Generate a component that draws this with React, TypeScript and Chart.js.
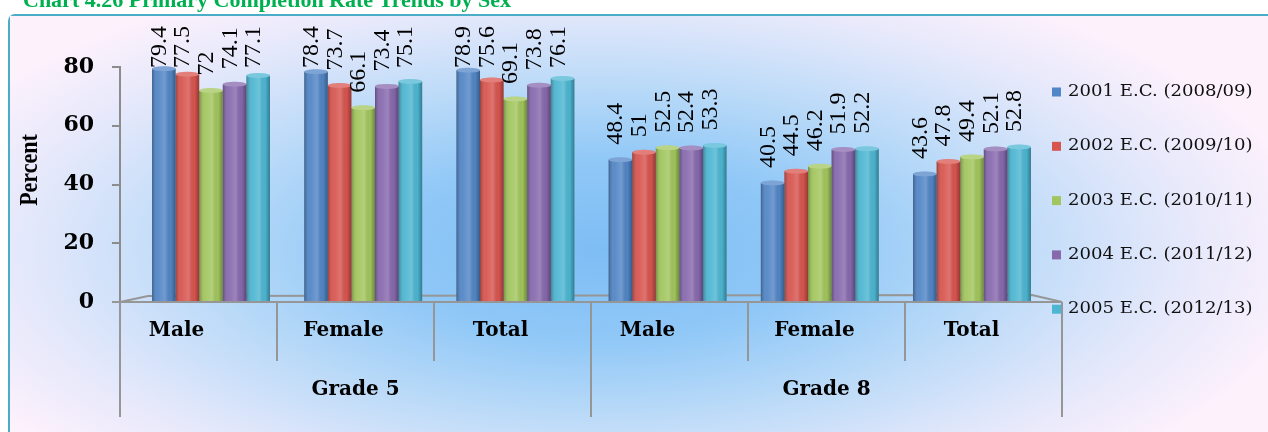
import React, { useEffect, useRef } from 'react';
import { Chart, registerables } from 'chart.js';

Chart.register(...registerables);

// ---------- data ----------
const chartTitle = 'Chart 4.26 Primary Completion Rate Trends by Sex';
const axisTitle = 'Percent';
const categories = ['Male', 'Female', 'Total', 'Male', 'Female', 'Total'];
const gradeGroups = ['Grade 5', 'Grade 8'];
const seriesNames = [
  '2001 E.C. (2008/09)',
  '2002 E.C. (2009/10)',
  '2003 E.C. (2010/11)',
  '2004 E.C. (2011/12)',
  '2005 E.C. (2012/13)',
];
const values2001 = [79.4, 78.4, 78.9, 48.4, 40.5, 43.6];
const values2002 = [77.5, 73.7, 75.6, 51, 44.5, 47.8];
const values2003 = [72, 66.1, 69.1, 52.5, 46.2, 49.4];
const values2004 = [74.1, 73.4, 73.8, 52.4, 51.9, 52.1];
const values2005 = [77.1, 75.1, 76.1, 53.3, 52.2, 52.8];
const seriesValues = [values2001, values2002, values2003, values2004, values2005];
const seriesColors = ['#5286c6', '#d8554f', '#a2c65d', '#8769ae', '#4db6d2'];
const yMin = 0;
const yMax = 80;
const yStep = 20;

function barTransform(chart: any) {
  const area = chart.chartArea;
  const n = categories.length;
  const cat = (area.right - area.left) / n;
  const c0 = area.left + cat / 2;
  const c1 = area.right - cat / 2;
  const t0 = c0 + 12.5;
  const t1 = c1 - 11.5;
  const b = (t1 - t0) / (c1 - c0);
  const a = t0 - b * c0;
  return { a, b };
}

const decorPlugin = {
  id: 'decor',
  beforeDraw(chart: any) {
    const ctx = chart.ctx;
    ctx.save();
    ctx.beginPath();
    ctx.rect(10, 16, 3000, 3000);
    ctx.clip();
    ctx.translate(600, 250);
    ctx.scale(720 / 300, 1);
    const g = ctx.createRadialGradient(0, 0, 0, 0, 0, 300);
    g.addColorStop(0, '#7ebdf4');
    g.addColorStop(0.3, '#90c8f7');
    g.addColorStop(0.55, '#badaf8');
    g.addColorStop(0.8, '#e4e8fb');
    g.addColorStop(1, '#fdf1fc');
    ctx.fillStyle = g;
    ctx.fillRect(-400, -300, 1000, 1000);
    ctx.restore();
    ctx.save();
    ctx.fillStyle = '#00b050';
    ctx.font = 'bold 22px "Liberation Serif"';
    ctx.textAlign = 'left';
    ctx.textBaseline = 'alphabetic';
    ctx.fillText(chartTitle, 23, 7);
    ctx.translate(37, 170);
    ctx.rotate(-Math.PI / 2);
    ctx.scale(1, 1.15);
    ctx.fillStyle = '#000000';
    ctx.font = 'bold 22px "Liberation Serif"';
    ctx.textAlign = 'center';
    ctx.fillText(axisTitle, 0, 0);
    ctx.restore();
  },
  beforeDatasetsDraw(chart: any) {
    const ctx = chart.ctx;
    const area = chart.chartArea;
    ctx.save();
    ctx.strokeStyle = '#969696';
    ctx.lineWidth = 2;
    ctx.beginPath();
    ctx.moveTo(area.left, area.bottom);
    ctx.lineTo(area.left + 28, area.bottom - 6);
    ctx.lineTo(area.right - 30, area.bottom - 7);
    ctx.lineTo(area.right, area.bottom);
    ctx.stroke();
    ctx.restore();
    const { a, b } = barTransform(chart);
    ctx.save();
    ctx.translate(a, 0);
    ctx.scale(b, 1);
  },
  afterDatasetsDraw(chart: any) {
    const ctx = chart.ctx;
    chart.data.datasets.forEach((ds: any, di: number) => {
      const meta = chart.getDatasetMeta(di);
      meta.data.forEach((el: any) => {
        const w = el.width;
        const x0 = el.x - w / 2;
        const top = el.y;
        const bot = el.base;
        const g = ctx.createLinearGradient(x0, 0, x0 + w, 0);
        g.addColorStop(0, 'rgba(0,0,0,0.28)');
        g.addColorStop(0.25, 'rgba(255,255,255,0.05)');
        g.addColorStop(0.55, 'rgba(255,255,255,0.18)');
        g.addColorStop(0.8, 'rgba(0,0,0,0.02)');
        g.addColorStop(1, 'rgba(0,0,0,0.32)');
        ctx.fillStyle = g;
        ctx.fillRect(x0, top, w, bot - top);
        ctx.beginPath();
        ctx.ellipse(el.x, top, w / 2, 2.5, 0, 0, Math.PI * 2);
        ctx.fillStyle = ds.backgroundColor;
        ctx.fill();
        ctx.fillStyle = 'rgba(255,255,255,0.25)';
        ctx.fill();
      });
    });
    ctx.restore();
    const { a, b } = barTransform(chart);
    const area = chart.chartArea;
    ctx.save();
    ctx.fillStyle = '#000000';
    ctx.font = '24px "Liberation Serif"';
    ctx.textAlign = 'left';
    ctx.textBaseline = 'alphabetic';
    chart.data.datasets.forEach((ds: any, di: number) => {
      const meta = chart.getDatasetMeta(di);
      meta.data.forEach((el: any, j: number) => {
        const text = String(ds.data[j]);
        const len = ctx.measureText(text).width;
        const bottom = Math.max(el.y - 15, area.top - 41 + len);
        const x = a + b * el.x + 2;
        ctx.save();
        ctx.translate(x, bottom);
        ctx.rotate(-Math.PI / 2);
        ctx.fillText(text, 0, 0);
        ctx.restore();
      });
    });
    ctx.restore();
  },
  afterDraw(chart: any) {
    const ctx = chart.ctx;
    const area = chart.chartArea;
    const n = categories.length;
    const cat = (area.right - area.left) / n;
    ctx.save();
    ctx.strokeStyle = '#969696';
    ctx.lineWidth = 2;
    ctx.beginPath();
    ctx.moveTo(area.left - 8, area.bottom);
    ctx.lineTo(area.right, area.bottom);
    for (let i = 0; i <= n; i++) {
      const x = area.left + i * cat;
      ctx.moveTo(x, area.bottom);
      ctx.lineTo(x, area.bottom + (i % 3 === 0 ? 115 : 59));
    }
    ctx.stroke();
    ctx.fillStyle = '#000000';
    ctx.font = 'bold 20px "DejaVu Serif"';
    ctx.textAlign = 'center';
    ctx.textBaseline = 'middle';
    categories.forEach((c, i) => {
      const shift = i % 3 === 0 ? -22 : -12;
      ctx.fillText(c, area.left + (i + 0.5) * cat + shift, area.bottom + 29);
    });
    gradeGroups.forEach((gname, gi) => {
      ctx.fillText(gname, area.left + (gi * 3 + 1.5) * cat, area.bottom + 88);
    });
    ctx.font = '16px "DejaVu Serif"';
    ctx.textAlign = 'left';
    chart.data.datasets.forEach((ds: any, di: number) => {
      const y = area.top + 25 + di * 54.3;
      const x = area.right - 10;
      ctx.fillStyle = ds.backgroundColor;
      ctx.fillRect(x, y - 4.5, 9, 9);
      ctx.fillStyle = '#111111';
      ctx.save();
      ctx.translate(x + 16, y);
      ctx.scale(1.13, 1);
      ctx.fillText(ds.label, 0, 0);
      ctx.restore();
    });
    ctx.restore();
  },
};

export default function App() {
  const ref = useRef<HTMLCanvasElement | null>(null);
  useEffect(() => {
    if (!ref.current) return;
    const chart = new Chart(ref.current, {
      type: 'bar',
      data: {
        labels: categories,
        datasets: seriesNames.map((name, i) => ({
          label: name,
          data: seriesValues[i],
          backgroundColor: seriesColors[i],
          borderWidth: 0,
          categoryPercentage: 0.775,
          barPercentage: 1,
        })),
      },
      options: {
        responsive: true,
        maintainAspectRatio: false,
        animation: false,
        events: [],
        layout: { padding: { top: 67, bottom: 130, right: 206, left: 0 } },
        plugins: {
          legend: { display: false },
          tooltip: { enabled: false },
          title: { display: false },
        },
        scales: {
          x: { display: false },
          y: {
            min: yMin,
            max: yMax,
            ticks: {
              stepSize: yStep,
              color: '#000000',
              padding: 18,
              font: { family: 'DejaVu Serif', size: 22, weight: 'bold' },
            },
            grid: {
              drawOnChartArea: false,
              drawTicks: true,
              tickLength: 8,
              color: '#8c8c8c',
              lineWidth: 2,
            },
            border: { display: true, color: '#8c8c8c', width: 2 },
            afterFit: (s: any) => {
              s.width = 120;
            },
          },
        },
      },
      plugins: [decorPlugin],
    });
    return () => chart.destroy();
  }, []);
  return (
    <div
      style={{
        position: 'fixed',
        left: 0,
        top: 0,
        width: 1268,
        height: 432,
        overflow: 'hidden',
        background: '#ffffff',
      }}
    >
      <div
        style={{
          position: 'absolute',
          left: 8,
          top: 14,
          width: 1400,
          height: 600,
          borderLeft: '3px solid #4bacc6',
          borderTop: '3px solid #4bacc6',
          borderTopLeftRadius: 7,
        }}
      />
      <canvas ref={ref} style={{ display: 'block', position: 'relative' }} />
    </div>
  );
}
